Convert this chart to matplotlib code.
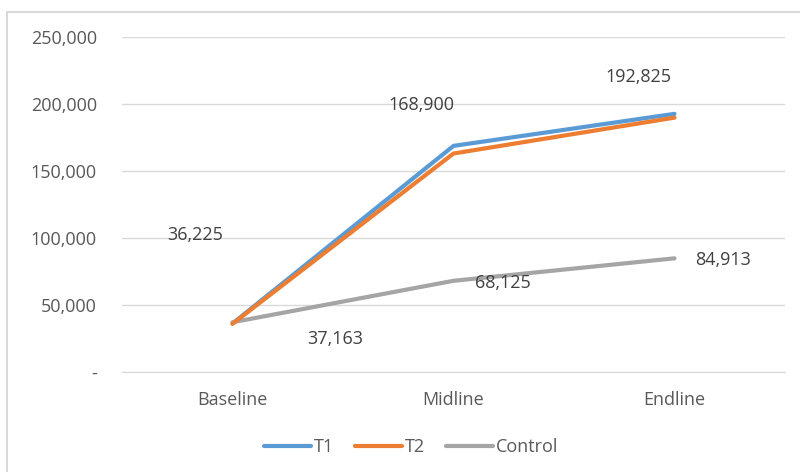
import matplotlib.pyplot as plt
from matplotlib.patches import Rectangle
from matplotlib.ticker import FuncFormatter, MultipleLocator

plt.rcParams['font.family'] = ['Open Sans', 'DejaVu Sans']

# Survey rounds and series values
rounds = ['Baseline', 'Midline', 'Endline']
t1 = [36225, 168900, 192825]
t2 = [36000, 163200, 190000]
control = [37163, 68125, 84913]

# Which points carry a value label, and where the label sits (pixel offsets)
t1_label_offsets = [(-37, 89), (-32, 41), (-36, 37)]
control_label_offsets = [(103, -17), (49, -2), (49, -2)]

C_T1 = '#5B9BD5'
C_T2 = '#ED7D31'
C_CTRL = '#A5A5A5'
C_TEXT = '#595959'
C_LABEL = '#404040'
C_GRID = '#D9D9D9'
FS = 13

fig = plt.figure(figsize=(8, 4.72), dpi=100)
# Chart area border
fig.patches.append(Rectangle((7 / 800, -0.1), 1.2, 1 - 12 / 472 + 0.1,
                             transform=fig.transFigure, fill=False,
                             edgecolor='#D9D9D9', linewidth=1.5))

ax = fig.add_axes([122 / 800, 100 / 472, 663 / 800, 334.7 / 472])
x = list(range(len(rounds)))

ax.plot(x, t1, color=C_T1, linewidth=3, solid_capstyle='round', label='T1', zorder=3)
ax.plot(x, t2, color=C_T2, linewidth=3, solid_capstyle='round', label='T2', zorder=4)
ax.plot(x, control, color=C_CTRL, linewidth=3, solid_capstyle='round', label='Control', zorder=3)

# Data labels
for xi, v, off in zip(x, t1, t1_label_offsets):
    ax.annotate(f'{v:,}', (xi, v), xytext=off, textcoords='offset pixels',
                ha='center', va='center', fontsize=FS, color=C_LABEL)
for xi, v, off in zip(x, control, control_label_offsets):
    ax.annotate(f'{v:,}', (xi, v), xytext=off, textcoords='offset pixels',
                ha='center', va='center', fontsize=FS, color=C_LABEL)

ax.set_xlim(-0.5, 2.5)
ax.set_ylim(0, 250000)
ax.set_xticks(x)
ax.set_xticklabels(rounds)
ax.yaxis.set_major_locator(MultipleLocator(50000))
ax.yaxis.set_major_formatter(FuncFormatter(lambda v, p: '-' if v == 0 else f'{int(v):,}'))
ax.tick_params(axis='both', length=0, labelsize=FS, colors=C_TEXT)
ax.tick_params(axis='x', pad=14)
ax.tick_params(axis='y', pad=18)
ax.grid(axis='y', color=C_GRID, linewidth=1)
ax.set_axisbelow(True)
for s in ['top', 'right', 'left']:
    ax.spines[s].set_visible(False)
ax.spines['bottom'].set_color(C_GRID)

leg = fig.legend(loc='center', bbox_to_anchor=(411 / 800, 1 - 447 / 472), ncol=3,
                 frameon=False, fontsize=FS, handlelength=2.6, handletextpad=0.17,
                 columnspacing=1.16)
for t in leg.get_texts():
    t.set_color(C_TEXT)

fig.savefig('out.png', dpi=100)
